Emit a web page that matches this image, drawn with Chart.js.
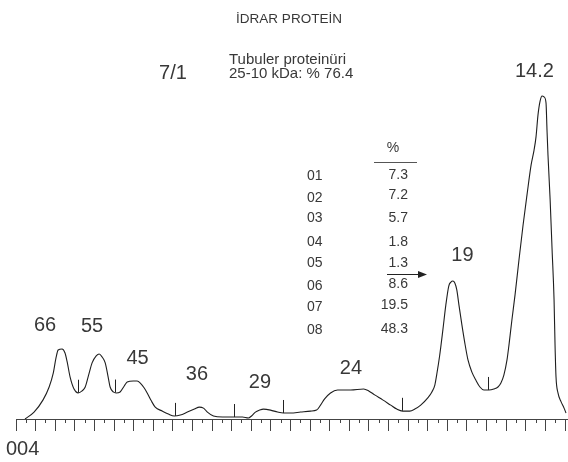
<!DOCTYPE html>
<html>
<head>
<meta charset="utf-8">
<title>İDRAR PROTEİN</title>
<script src="https://cdn.jsdelivr.net/npm/chart.js@4.4.1/dist/chart.umd.min.js"></script>
<style>
  html, body { margin: 0; padding: 0; background: #ffffff; }
  #wrap { width: 568px; height: 462px; position: relative; }
</style>
</head>
<body>
<div id="wrap"><canvas id="chart" width="568" height="462"></canvas></div>
<script>
// Densitometry trace of the urine protein electrophoresis lane
const positions = [
  0.46, 0.92, 1.38, 1.69, 1.90, 2.04, 2.15, 2.35, 2.50, 2.61, 2.76, 2.96, 3.17, 3.37, 3.53, 3.73,
  3.88, 4.09, 4.24, 4.39, 4.55, 4.70, 4.80, 4.96, 5.11, 5.31, 5.52, 5.67, 5.98, 6.18, 6.34, 6.54,
  6.69, 6.90, 7.10, 7.46, 7.77, 8.07, 8.38, 8.74, 9.10, 9.35, 9.56, 9.76, 10.07, 10.53, 11.09, 11.55,
  11.85, 12.01, 12.21, 12.42, 12.62, 12.98, 13.34, 13.64, 14.00, 14.51, 15.02, 15.33, 15.53, 15.74,
  16.04, 16.40, 17.07, 17.73, 17.99, 18.29, 18.70, 19.11, 19.42, 19.72, 20.08, 20.34, 20.64, 21.00,
  21.21, 21.36, 21.46, 21.61, 21.77, 21.92, 22.07, 22.18, 22.28, 22.38, 22.48, 22.59, 22.74, 22.89,
  23.05, 23.25, 23.45, 23.66, 23.86, 24.12, 24.37, 24.58, 24.73, 24.88, 25.04, 25.14, 25.29, 25.45,
  25.65, 25.86, 26.06, 26.27, 26.42, 26.52, 26.62, 26.73, 26.83, 26.93, 27.03, 27.08, 27.13, 27.24,
  27.34, 27.44, 27.49, 27.54, 27.64, 27.80, 27.95, 28.05
];
const intensity = [
  0.0, 2.1, 5.8, 9.7, 13.9, 18.5, 20.9, 21.2, 20.0, 17.3, 12.7, 9.1, 7.9, 8.5, 9.7, 13.9,
  17.0, 19.1, 19.7, 18.8, 17.0, 12.7, 9.7, 8.2, 7.9, 8.2, 10.0, 11.2, 11.5, 11.5, 10.9, 9.4,
  7.9, 5.5, 3.6, 2.4, 1.5, 0.9, 1.2, 2.1, 3.0, 3.6, 3.3, 2.1, 0.9, 0.6, 0.6, 0.6,
  0.3, 0.9, 2.1, 2.7, 3.0, 2.7, 2.1, 1.8, 1.8, 2.1, 2.4, 2.7, 4.2, 6.1,
  7.9, 8.8, 8.8, 9.1, 8.5, 7.3, 5.8, 4.2, 3.0, 2.4, 2.4, 3.0, 4.2, 6.4,
  8.2, 10.3, 13.6, 19.4, 27.0, 34.5, 40.3, 41.5, 41.8, 41.2, 39.1, 34.5, 28.5, 23.0,
  17.9, 14.2, 11.8, 9.7, 8.8, 8.8, 9.1, 9.7, 10.9, 13.3, 17.9, 22.4, 30.0, 37.6,
  48.2, 58.8, 67.9, 77.0, 81.5, 85.5, 92.1, 96.4, 97.9, 97.6, 95.8, 87.6, 80.0, 66.4,
  51.2, 36.1, 22.4, 12.7, 7.9, 5.2, 3.3, 1.8
];

// Fraction boundaries (valleys between bands)
const separatorPositions = [3.16, 5.05, 8.11, 11.12, 13.62, 19.68, 24.07];

// Molecular weight markers (kDa) above the bands
const peakLabels = ['66', '55', '45', '36', '29', '24', '19', '14.2'];
const peakLabelX = [1.48, 3.88, 6.20, 9.23, 12.44, 17.08, 22.77, 26.44];
const peakLabelY = [28.2, 27.9, 18.2, 13.6, 11.2, 15.3, 49.7, 105.2];

// Fraction percentages
const fractionIds = ['01', '02', '03', '04', '05', '06', '07', '08'];
const fractionPercent = ['7.3', '7.2', '5.7', '1.8', '1.3', '8.6', '19.5', '48.3'];

const FONT = '"Liberation Sans", Arial, Helvetica, sans-serif';
const INK = '#383838';

function curveValueAt(x) {
  for (let i = 1; i < positions.length; i++) {
    if (x <= positions[i]) {
      const t = (x - positions[i - 1]) / (positions[i] - positions[i - 1]);
      return intensity[i - 1] + t * (intensity[i] - intensity[i - 1]);
    }
  }
  return intensity[intensity.length - 1];
}

const decorations = {
  id: 'decorations',
  afterDraw(chart) {
    const ctx = chart.ctx;
    const xs = chart.scales.x;
    const ys = chart.scales.y;
    const base = chart.chartArea.bottom;
    ctx.save();

    // minor ticks halfway between the major ones
    ctx.strokeStyle = '#444';
    ctx.lineWidth = 1;
    ctx.beginPath();
    for (let v = 0.5; v < 28; v += 1) {
      const px = Math.round(xs.getPixelForValue(v)) + 0.5;
      ctx.moveTo(px, base);
      ctx.lineTo(px, base + 4);
    }
    ctx.stroke();

    // fraction separators rising from the trace
    ctx.strokeStyle = '#222';
    ctx.beginPath();
    separatorPositions.forEach(v => {
      const px = Math.round(xs.getPixelForValue(v)) + 0.5;
      const py = ys.getPixelForValue(curveValueAt(v));
      ctx.moveTo(px, py);
      ctx.lineTo(px, py - 13);
    });
    ctx.stroke();

    ctx.fillStyle = INK;
    ctx.textBaseline = 'middle';

    // band markers
    ctx.textAlign = 'center';
    ctx.font = '20px ' + FONT;
    peakLabels.forEach((t, i) => {
      ctx.fillText(t, xs.getPixelForValue(peakLabelX[i]), ys.getPixelForValue(peakLabelY[i]));
    });
    ctx.fillText('7/1', 173, 73);
    ctx.textAlign = 'left';
    ctx.fillText('004', 6, 449);

    // title
    ctx.textAlign = 'center';
    ctx.font = '13.5px ' + FONT;
    ctx.fillText('İDRAR PROTEİN', 289, 19);

    // note
    ctx.textAlign = 'left';
    ctx.font = '15px ' + FONT;
    ctx.fillText('Tubuler proteinüri', 229, 59.5);
    ctx.fillText('25-10 kDa: % 76.4', 229, 74);

    // percentage table
    ctx.font = '14px ' + FONT;
    ctx.textAlign = 'center';
    ctx.fillText('%', 393, 148);
    ctx.strokeStyle = '#555';
    ctx.beginPath();
    ctx.moveTo(374, 162.5);
    ctx.lineTo(417, 162.5);
    ctx.stroke();

    const idRows = [176, 198, 218, 242, 263, 286, 307, 330];
    const valRows = [175, 195, 218, 242, 263, 284, 305, 329];
    fractionIds.forEach((id, i) => {
      ctx.textAlign = 'left';
      ctx.fillText(id, 307, idRows[i]);
      ctx.textAlign = 'right';
      ctx.fillText(fractionPercent[i], 408, valRows[i]);
    });

    // boundary arrow between fractions 05 and 06
    ctx.strokeStyle = '#222';
    ctx.beginPath();
    ctx.moveTo(387, 274.5);
    ctx.lineTo(420, 274.5);
    ctx.stroke();
    ctx.fillStyle = '#222';
    ctx.beginPath();
    ctx.moveTo(427, 274.5);
    ctx.lineTo(418, 271);
    ctx.lineTo(418, 278);
    ctx.closePath();
    ctx.fill();

    ctx.restore();
  }
};

new Chart(document.getElementById('chart'), {
  type: 'line',
  data: {
    datasets: [{
      data: positions.map((x, i) => ({ x: x, y: intensity[i] })),
      borderColor: '#1e1e1e',
      borderWidth: 1.1,
      pointRadius: 0,
      fill: false,
      cubicInterpolationMode: 'monotone'
    }]
  },
  options: {
    responsive: false,
    animation: false,
    events: [],
    layout: { padding: { left: 16, right: 1, top: 89, bottom: 31 } },
    plugins: { legend: { display: false }, tooltip: { enabled: false }, title: { display: false } },
    scales: {
      x: {
        type: 'linear',
        min: 0,
        max: 28.1,
        ticks: { stepSize: 1, display: false, includeBounds: false },
        grid: { drawOnChartArea: false, drawTicks: true, tickLength: 12, tickColor: '#444', tickWidth: 1 },
        border: { display: true, color: '#444', width: 1 }
      },
      y: {
        display: false,
        min: 0,
        max: 100
      }
    }
  },
  plugins: [decorations]
});
</script>
</body>
</html>
